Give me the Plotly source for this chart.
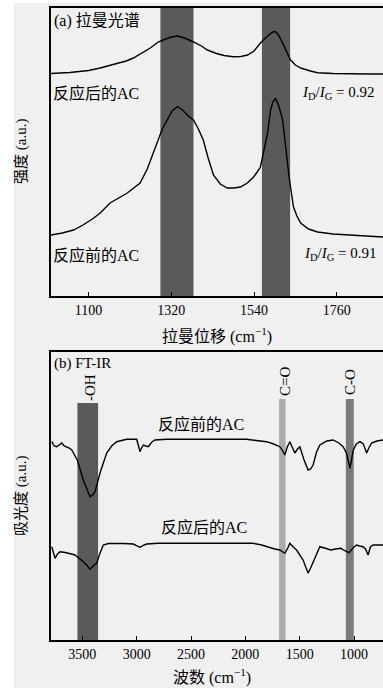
import plotly.graph_objects as go

W, H = 383, 688

# ---------------- data ----------------
raman_after_x = [1000, 1050, 1100, 1131, 1170, 1200, 1219, 1240, 1264, 1285, 1299, 1315, 1336, 1355, 1379,
                 1400, 1416, 1440, 1460, 1485, 1505, 1523, 1540, 1557, 1576, 1590, 1597, 1605, 1616, 1626,
                 1637, 1650, 1664, 1690, 1709, 1750, 1800, 1850, 1885]
raman_after_y = [222.5, 223.5, 225.5, 228, 232, 235, 238, 243, 248, 254, 256, 258.5, 260, 258, 254,
                 250, 246, 242.5, 240.5, 239.3, 239.5, 241, 245, 253, 260, 264, 264.5, 261, 253, 244,
                 236, 231, 228, 225, 223.3, 222.5, 222, 222, 222]

raman_before_x = [1000, 1030, 1060, 1085, 1110, 1131, 1157, 1180, 1203, 1220, 1237, 1256, 1270, 1283, 1296,
                  1309, 1322, 1336, 1350, 1365, 1379, 1392, 1405, 1418, 1432, 1450, 1469, 1486, 1504, 1522,
                  1539, 1552, 1557, 1566, 1576, 1584, 1590, 1597, 1606, 1616, 1624, 1632, 1637, 1645, 1654,
                  1664, 1685, 1709, 1750, 1797, 1840, 1885]
raman_before_y = [61, 63, 66, 71, 77, 83, 93, 98, 103, 108, 113, 127, 141, 156, 167,
                  176, 185, 189.3, 186, 180, 176, 167, 156, 138, 121, 112, 108, 108, 109, 113,
                  119, 126, 129, 145, 163, 186, 194, 197.7, 190, 176, 146, 123, 109, 89, 80,
                  73, 67, 64, 62, 61, 60, 59]

ir_before_x = [3781, 3758, 3735, 3712, 3689, 3666, 3643, 3620, 3597, 3546, 3491, 3460, 3429, 3405, 3383,
               3337, 3276, 3230, 3184, 3092, 3000, 2985, 2970, 2955, 2939, 2915, 2893, 2860, 2832, 2724,
               2500, 2250, 1989, 1900, 1805, 1740, 1683, 1660, 1637, 1615, 1591, 1570, 1545, 1520, 1499,
               1460, 1423, 1400, 1377, 1345, 1315, 1250, 1193, 1140, 1101, 1070, 1050, 1038, 1020, 1007,
               980, 946, 915, 884, 860, 838, 790, 734]
ir_before_y = [198.3, 194, 193.3, 195, 197, 194, 193.3, 192, 190, 180, 160, 152, 143.3, 145, 148.3,
               167, 187, 194, 198.3, 200.7, 200.7, 195, 188.3, 192, 195, 194, 193.3, 198, 200, 200.7,
               200.7, 200.7, 200.7, 199.5, 198.3, 196, 193.3, 190, 185, 193, 198.3, 193, 187, 191, 193.3,
               180, 170, 171, 175, 188, 195, 199, 200, 197, 193.3, 187, 178, 171.7, 182, 190,
               196, 198.3, 196, 187, 193, 197, 199, 200]

ir_after_x = [3781, 3751, 3728, 3705, 3670, 3643, 3600, 3567, 3530, 3491, 3460, 3429, 3400, 3368, 3340,
              3307, 3260, 3215, 3120, 3031, 2970, 2930, 2908, 2800, 2500, 2200, 1931, 1850, 1805, 1730,
              1683, 1637, 1610, 1591, 1560, 1529, 1469, 1440, 1423, 1400, 1377, 1345, 1315, 1270, 1216,
              1170, 1123, 1080, 1047, 1010, 978, 950, 917, 895, 871, 850, 825, 734]
ir_after_y = [93.3, 81.7, 86, 88.3, 87.7, 87.3, 86, 85, 82, 78.3, 75, 70.7, 74, 76.7, 86,
              95, 96.5, 96.7, 96.5, 96, 92.7, 95, 96, 96.7, 96.7, 96.7, 96.7, 95, 93.3, 91,
              90, 86.7, 92, 96.7, 93, 90, 80, 72, 66.7, 72, 78.3, 87, 93.3, 92, 90,
              91, 91.7, 89, 87.3, 92, 95, 94, 93.3, 91, 85, 93, 95, 95]

raman_ticks = [1100, 1320, 1540, 1760]
ir_ticks = [3500, 3000, 2500, 2000, 1500, 1000]

# band (start, end) in cm-1
raman_bands = [(1291, 1379), (1561, 1636)]
ir_bands = [(3545, 3355, "#5a5a5a", 237), (1690, 1630, "#ababab", 241), (1076, 1003, "#7a7a7a", 241)]

FONT = "Liberation Serif, 'Noto Sans CJK SC', serif"
BG = "#f0f0f0"


def px(x):
    return x / W


def py(y):
    return 1 - y / H


fig = go.Figure()
fig.add_trace(go.Scatter(x=raman_after_x, y=raman_after_y, mode="lines",
                         line=dict(color="black", width=1.4), xaxis="x", yaxis="y", showlegend=False))
fig.add_trace(go.Scatter(x=raman_before_x, y=raman_before_y, mode="lines",
                         line=dict(color="black", width=1.4), xaxis="x", yaxis="y", showlegend=False))
fig.add_trace(go.Scatter(x=ir_before_x, y=ir_before_y, mode="lines",
                         line=dict(color="black", width=1.4), xaxis="x2", yaxis="y2", showlegend=False))
fig.add_trace(go.Scatter(x=ir_after_x, y=ir_after_y, mode="lines",
                         line=dict(color="black", width=1.4), xaxis="x2", yaxis="y2", showlegend=False))

shapes = []
# white margins of the scanned figure
shapes.append(dict(type="rect", xref="paper", yref="paper", x0=0, x1=px(14), y0=0, y1=1,
                   fillcolor="white", line=dict(width=0), layer="below"))
shapes.append(dict(type="rect", xref="paper", yref="paper", x0=0, x1=1, y0=py(3), y1=1,
                   fillcolor="white", line=dict(width=0), layer="below"))
for a, b in raman_bands:
    shapes.append(dict(type="rect", xref="x", yref="y domain", x0=a, x1=b, y0=0, y1=1,
                       fillcolor="#5a5a5a", line=dict(width=0), layer="below"))
for a, b, c, top in ir_bands:
    shapes.append(dict(type="rect", xref="x2", yref="y2", x0=a, x1=b, y0=0, y1=top,
                       fillcolor=c, line=dict(width=0), layer="below"))

ann = []


def text(x, y, s, size=16, xanchor="left", angle=0):
    ann.append(dict(x=px(x), y=py(y), xref="paper", yref="paper", text=s, showarrow=False,
                    xanchor=xanchor, yanchor="middle", textangle=angle,
                    font=dict(family=FONT, size=size, color="black")))


text(52, 21, "(a) 拉曼光谱")
text(51, 93, "反应后的AC")
text(377, 93, "<i>I</i><sub>D</sub>/<i>I</i><sub>G</sub> = 0.92", size=15, xanchor="right")
text(51, 255, "反应前的AC")
text(379, 254, "<i>I</i><sub>D</sub>/<i>I</i><sub>G</sub> = 0.91", size=15, xanchor="right")
text(52, 363, "(b) FT-IR", size=15)
text(90, 388, "-OH", size=15, xanchor="center", angle=-90)
text(285, 382, "C=O", size=15, xanchor="center", angle=-90)
text(350, 382, "C-O", size=15, xanchor="center", angle=-90)
text(201, 424, "反应前的AC", xanchor="center")
text(204, 527, "反应后的AC", xanchor="center")
# axis titles
text(217, 335, "拉曼位移 (cm<sup>−1</sup>)", xanchor="center")
text(212, 676, "波数 (cm<sup>−1</sup>)", xanchor="center")
text(22, 152, "强度 (a.u.)", size=15, xanchor="center", angle=-90)
text(22, 496, "吸光度 (a.u.)", size=15, xanchor="center", angle=-90)

axis_common = dict(showline=True, linecolor="black", linewidth=1.5, showgrid=False, zeroline=False,
                   ticks="inside", ticklen=4, tickwidth=1.3, tickcolor="black",
                   tickfont=dict(family=FONT, size=14, color="black"))

fig.update_layout(
    width=W, height=H, margin=dict(l=0, r=0, t=0, b=0),
    paper_bgcolor=BG, plot_bgcolor=BG,
    xaxis=dict(domain=[px(51), 1], range=[1000, 1883], tickvals=raman_ticks, anchor="y",
               mirror=True, **axis_common),
    yaxis=dict(domain=[py(296), py(8)], range=[0, 288], showline=True, linecolor="black", linewidth=1.5,
               showgrid=False, zeroline=False, showticklabels=False, ticks="", anchor="x"),
    xaxis2=dict(domain=[px(51), 1], range=[3788, 734], tickvals=ir_ticks, anchor="y2",
                mirror=True, **axis_common),
    yaxis2=dict(domain=[py(640), py(352)], range=[0, 288], showline=True, linecolor="black", linewidth=1.5,
                showgrid=False, zeroline=False, showticklabels=False, ticks="", anchor="x2"),
    shapes=shapes, annotations=ann,
)

fig.write_html("out.html")
